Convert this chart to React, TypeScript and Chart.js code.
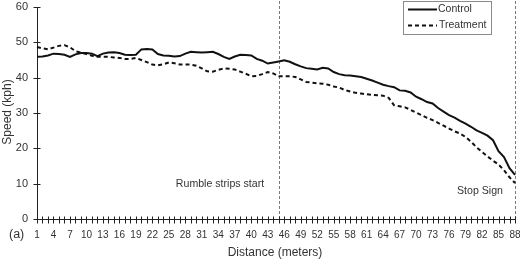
import React, { useEffect, useRef } from "react";
import { Chart, registerables } from "chart.js";

Chart.register(...registerables);

// Distance along the approach, in meters (1 .. 88)
const distances: string[] = Array.from({ length: 88 }, (_, i) => String(i + 1));

// Mean speed (kph) at each meter
const controlSpeeds: number[] = [
  45.9, 46.0, 46.3, 46.8, 46.7, 46.5, 45.9, 46.6, 47.0, 47.0,
  46.8, 46.1, 46.8, 47.1, 47.2, 47.0, 46.5, 46.4, 46.5, 48.0,
  48.1, 48.0, 46.7, 46.3, 46.2, 46.0, 46.1, 46.8, 47.3, 47.2,
  47.1, 47.2, 47.3, 46.7, 45.9, 45.3, 46.0, 46.5, 46.4, 46.3,
  45.3, 44.8, 44.0, 44.3, 44.6, 44.9, 44.5, 43.8, 43.2, 42.7,
  42.5, 42.3, 42.8, 42.6, 41.6, 41.0, 40.7, 40.6, 40.4, 40.2,
  39.7, 39.2, 38.6, 38.0, 37.6, 37.3, 36.4, 36.3, 35.8, 34.6,
  33.9, 33.1, 32.7, 31.4, 30.4, 29.4, 28.7, 27.8, 27.0, 26.1,
  25.1, 24.4, 23.6, 22.3, 19.2, 17.5, 14.4, 12.5,
];

const treatmentSpeeds: number[] = [
  48.7, 48.3, 48.0, 48.5, 49.0, 49.2, 48.6, 47.5, 47.1, 46.7,
  46.2, 45.9, 45.9, 45.9, 45.7, 45.6, 45.3, 45.3, 45.6, 45.0,
  44.4, 43.7, 43.5, 43.8, 44.3, 44.1, 43.7, 43.7, 43.7, 43.4,
  42.6, 41.8, 41.7, 42.2, 42.6, 42.5, 42.3, 41.7, 41.1, 40.4,
  40.5, 41.0, 41.6, 41.2, 40.4, 40.4, 40.4, 40.2, 39.5, 38.8,
  38.6, 38.4, 38.3, 38.0, 37.5, 37.2, 36.5, 36.1, 35.7, 35.5,
  35.3, 35.1, 35.0, 34.9, 34.3, 32.2, 31.9, 31.6, 30.9, 30.1,
  29.4, 28.6, 28.0, 27.2, 26.4, 25.6, 24.8, 24.2, 23.2, 21.9,
  20.3, 19.0, 17.7, 16.5, 15.4, 13.8, 11.8, 10.2,
];

// Reference positions (meter labels) for the vertical markers
const rumbleStripStart = "45";
const stopSign = "88";

const FONT = '"Liberation Sans", Arial, Helvetica, sans-serif';

const overlayPlugin = {
  id: "overlay",
  beforeDatasetsDraw(chart: any) {
    const { ctx, chartArea, scales } = chart;
    const x = scales.x;
    ctx.save();
    ctx.strokeStyle = "#7a7a7a";
    ctx.lineWidth = 1;
    ctx.setLineDash([3, 2]);
    for (const lbl of [rumbleStripStart, stopSign]) {
      const px = Math.round(x.getPixelForValue(distances.indexOf(lbl))) + 0.5;
      ctx.beginPath();
      ctx.moveTo(px, 1);
      ctx.lineTo(px, chartArea.bottom);
      ctx.stroke();
    }
    ctx.restore();
  },
  afterDraw(chart: any) {
    const { ctx, chartArea, scales } = chart;
    const x = scales.x;
    const y = scales.y;
    ctx.save();
    // crossing tick marks on both axes
    ctx.strokeStyle = "#222";
    ctx.lineWidth = 1;
    ctx.setLineDash([]);
    const axisY = Math.round(chartArea.bottom) + 0.5;
    for (let i = 0; i < distances.length; i++) {
      const px = Math.round(x.getPixelForTick(i)) + 0.5;
      ctx.beginPath();
      ctx.moveTo(px, axisY - 3);
      ctx.lineTo(px, axisY + 4);
      ctx.stroke();
    }
    const axisX = Math.round(chartArea.left) + 0.5;
    y.ticks.forEach((_: any, i: number) => {
      const py = Math.round(y.getPixelForTick(i)) + 0.5;
      ctx.beginPath();
      ctx.moveTo(axisX - 4, py);
      ctx.lineTo(axisX + 3, py);
      ctx.stroke();
    });

    // axis titles and annotations
    ctx.fillStyle = "#333";
    ctx.textBaseline = "middle";
    ctx.textAlign = "center";
    ctx.font = `12px ${FONT}`;
    ctx.fillText("Distance (meters)", 275, 253);
    ctx.save();
    ctx.translate(8, 112);
    ctx.rotate(-Math.PI / 2);
    ctx.fillText("Speed (kph)", 0, 0);
    ctx.restore();

    ctx.textAlign = "left";
    ctx.font = `12.5px ${FONT}`;
    ctx.fillText("(a)", 9, 235);

    ctx.textAlign = "center";
    ctx.font = `10.6px ${FONT}`;
    ctx.fillText("Rumble strips start", 220, 184);
    ctx.fillText("Stop Sign", 480, 191);

    // legend box
    ctx.strokeStyle = "#8a8a8a";
    ctx.lineWidth = 1;
    ctx.strokeRect(403.5, 1.5, 88, 33);
    ctx.strokeStyle = "#111";
    ctx.lineWidth = 2;
    ctx.beginPath();
    ctx.moveTo(408, 9.5);
    ctx.lineTo(437, 9.5);
    ctx.stroke();
    ctx.setLineDash([4, 3]);
    ctx.beginPath();
    ctx.moveTo(408, 25.5);
    ctx.lineTo(437, 25.5);
    ctx.stroke();
    ctx.setLineDash([]);
    ctx.textAlign = "left";
    ctx.fillStyle = "#333";
    ctx.font = `10.5px ${FONT}`;
    ctx.fillText("Control", 438, 9.5);
    ctx.fillText("Treatment", 439, 25.5);
    ctx.restore();
  },
};

export default function App() {
  const canvasRef = useRef<HTMLCanvasElement | null>(null);

  useEffect(() => {
    if (!canvasRef.current) return;
    const chart = new Chart(canvasRef.current, {
      type: "line",
      data: {
        labels: distances,
        datasets: [
          {
            label: "Control",
            data: controlSpeeds,
            borderColor: "#111",
            borderWidth: 2,
            pointRadius: 0,
            tension: 0,
            fill: false,
          },
          {
            label: "Treatment",
            data: treatmentSpeeds,
            borderColor: "#111",
            borderWidth: 2,
            borderDash: [4, 3],
            pointRadius: 0,
            tension: 0,
            fill: false,
          },
        ],
      },
      options: {
        responsive: false,
        animation: false,
        layout: { padding: { top: 7, right: 5, left: 0, bottom: 0 } },
        plugins: {
          legend: { display: false },
          tooltip: { enabled: false },
        },
        scales: {
          x: {
            type: "category",
            offset: false,
            grid: { display: false, drawTicks: false },
            border: { display: true, color: "#222", width: 1 },
            ticks: {
              autoSkip: false,
              maxRotation: 0,
              minRotation: 0,
              padding: 10,
              color: "#333",
              font: { family: FONT, size: 10 },
              callback: (_v: any, i: number) => (i % 3 === 0 ? distances[i] : ""),
            },
            afterFit: (s: any) => {
              s.height = 59;
              s.paddingLeft = 0;
              s.paddingRight = 0;
            },
          },
          y: {
            min: 0,
            max: 60,
            grid: { display: false, drawTicks: false },
            border: { display: true, color: "#222", width: 1 },
            ticks: {
              stepSize: 10,
              padding: 9,
              color: "#333",
              font: { family: FONT, size: 11 },
            },
            afterFit: (s: any) => {
              s.width = 37;
              s.paddingTop = 0;
              s.paddingBottom = 0;
            },
          },
        },
      },
      plugins: [overlayPlugin],
    });
    return () => chart.destroy();
  }, []);

  return (
    <div style={{ position: "absolute", left: 0, top: 0, width: 520, height: 278, background: "#fff" }}>
      <canvas ref={canvasRef} width={520} height={278} style={{ display: "block" }} />
    </div>
  );
}
